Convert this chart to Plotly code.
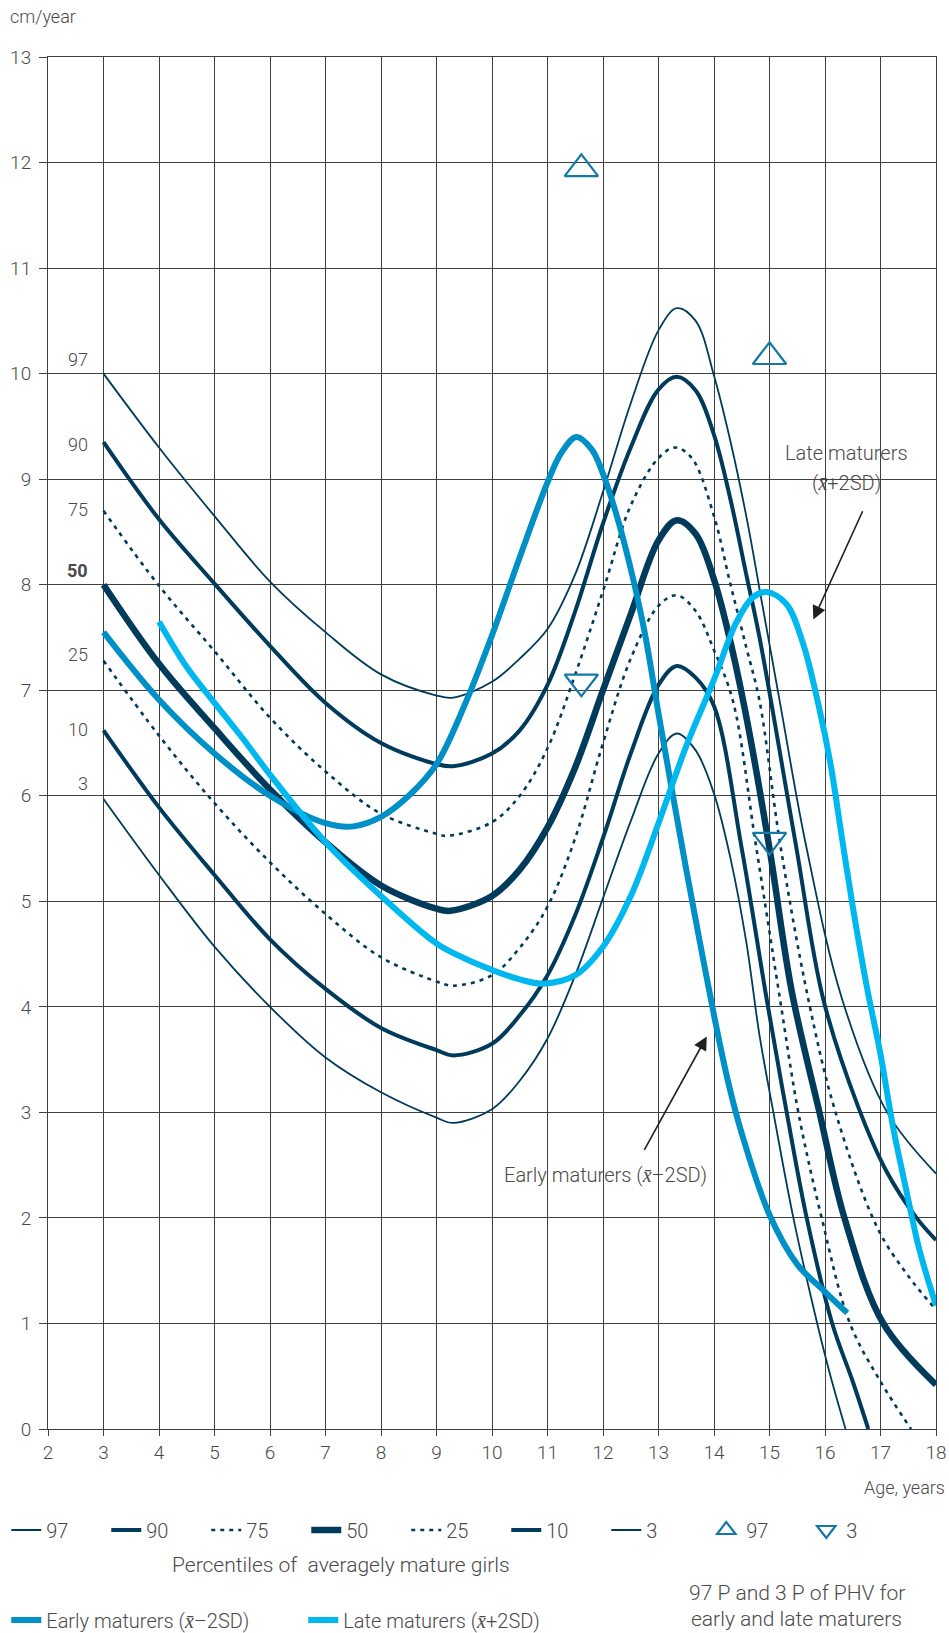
import plotly.graph_objects as go

# ---------------- data ----------------
age_p97 = [3, 4, 5, 6, 7, 8, 9, 9.3, 10, 10.5, 11, 11.5, 12, 12.5, 13, 13.33, 13.67, 14, 14.3, 14.6, 14.84, 15.2, 15.65, 16.31, 17.12, 18]
val_p97 = [10.0, 9.3, 8.65, 8.03, 7.55, 7.15, 6.95, 6.93, 7.08, 7.3, 7.58, 8.1, 8.88, 9.72, 10.41, 10.62, 10.5, 9.98, 9.35, 8.6, 7.9, 6.85, 5.55, 4.07, 3.0, 2.42]

age_p90 = [3, 4, 5, 6, 7, 8, 9, 9.3, 10, 10.5, 11, 11.5, 12, 12.5, 13, 13.33, 13.67, 14, 14.3, 14.58, 14.82, 15.47, 15.97, 16.6, 17.1, 17.65, 18]
val_p90 = [9.35, 8.62, 8.01, 7.42, 6.88, 6.5, 6.3, 6.28, 6.4, 6.62, 7.05, 7.75, 8.58, 9.3, 9.85, 9.97, 9.84, 9.42, 8.8, 8.1, 7.5, 5.55, 4.07, 3.05, 2.45, 2.0, 1.79]

age_p75 = [3, 4, 5, 6, 7, 8, 9, 9.2, 10, 10.5, 11, 11.5, 12, 12.5, 13, 13.3, 13.6, 14, 14.28, 14.58, 14.82, 15.19, 15.7, 16.19, 16.95, 17.5, 18]
val_p75 = [8.7, 7.99, 7.37, 6.74, 6.23, 5.83, 5.64, 5.62, 5.75, 6.0, 6.45, 7.15, 7.94, 8.75, 9.2, 9.3, 9.2, 8.65, 8.04, 7.41, 6.9, 5.55, 4.07, 3.0, 1.9, 1.45, 1.13]

age_p50 = [3, 4, 5, 6, 7, 8, 9, 9.25, 10, 10.5, 11, 11.5, 12, 12.5, 13, 13.33, 13.67, 14, 14.3, 14.6, 15.0, 15.4, 15.9, 16.35, 17.05, 18]
val_p50 = [8.0, 7.25, 6.64, 6.06, 5.56, 5.15, 4.93, 4.91, 5.05, 5.3, 5.7, 6.27, 7.0, 7.72, 8.42, 8.61, 8.48, 8.05, 7.45, 6.7, 5.5, 4.15, 3.0, 2.0, 1.0, 0.42]

age_p25 = [3, 4, 5, 6, 7, 8, 9, 9.3, 10, 10.5, 11, 11.5, 12, 12.5, 13, 13.33, 13.67, 14, 14.34, 14.75, 15.19, 15.52, 15.94, 16.45, 17.0, 17.55]
val_p25 = [7.28, 6.57, 5.93, 5.37, 4.88, 4.47, 4.24, 4.2, 4.3, 4.56, 4.95, 5.6, 6.5, 7.3, 7.8, 7.9, 7.75, 7.38, 6.9, 5.55, 4.07, 3.0, 2.0, 1.0, 0.45, 0.0]

age_p10 = [3, 4, 5, 6, 7, 8, 9, 9.3, 10, 10.5, 11, 11.5, 12, 12.5, 13, 13.33, 13.67, 14, 14.5, 14.95, 15.31, 15.67, 16.13, 16.5, 16.78]
val_p10 = [6.62, 5.89, 5.25, 4.64, 4.17, 3.8, 3.59, 3.54, 3.65, 3.92, 4.3, 4.87, 5.6, 6.4, 7.05, 7.23, 7.12, 6.85, 5.5, 4.07, 3.0, 2.0, 1.0, 0.45, 0.0]

age_p3 = [3, 4, 5, 6, 7, 8, 9, 9.3, 10, 10.5, 11, 11.5, 12, 12.5, 13, 13.33, 13.67, 14, 14.3, 14.58, 14.82, 15.07, 15.43, 15.86, 16.1, 16.37]
val_p3 = [5.97, 5.25, 4.57, 4.0, 3.52, 3.19, 2.95, 2.9, 3.03, 3.3, 3.7, 4.3, 5.03, 5.76, 6.4, 6.59, 6.43, 6.02, 5.4, 4.62, 3.73, 3.0, 2.0, 1.0, 0.5, 0.0]

age_early = [3, 4, 5, 6, 7, 7.5, 8, 8.5, 9, 9.5, 10, 10.5, 11, 11.25, 11.52, 11.8, 12, 12.25, 12.5, 12.75, 13, 13.25, 13.5, 13.75, 14, 14.25, 14.5, 15, 15.5, 16, 16.4]
val_early = [7.55, 6.91, 6.4, 6.0, 5.74, 5.71, 5.8, 6.0, 6.3, 6.85, 7.52, 8.26, 8.97, 9.25, 9.4, 9.28, 9.05, 8.65, 8.15, 7.55, 6.78, 6.03, 5.3, 4.6, 3.92, 3.3, 2.8, 2.03, 1.56, 1.3, 1.1]

age_late = [4, 4.5, 5, 5.5, 6, 7, 8, 9, 9.5, 10, 10.5, 10.92, 11.5, 12, 12.5, 13, 13.5, 14, 14.4, 14.7, 14.95, 15.3, 15.6, 15.9, 16.1, 16.3, 16.5, 16.75, 17.0, 17.23, 17.45, 17.7, 18]
val_late = [7.65, 7.22, 6.88, 6.55, 6.2, 5.56, 5.05, 4.6, 4.46, 4.35, 4.26, 4.22, 4.3, 4.57, 5.05, 5.74, 6.47, 7.1, 7.64, 7.88, 7.93, 7.82, 7.45, 6.82, 6.3, 5.62, 4.95, 4.2, 3.55, 2.85, 2.3, 1.7, 1.17]

phv97_age = [11.61, 15.0]
phv97_val = [11.94, 10.16]
phv3_age = [11.61, 15.0]
phv3_val = [7.08, 5.58]

pct_label_text = ["97", "90", "75", "<b>50</b>", "25", "10", "3"]
pct_label_y = [10.13, 9.33, 8.71, 8.13, 7.34, 6.63, 6.12]

x_ticks = list(range(2, 19))
y_ticks = list(range(0, 14))

# ---------------- styles ----------------
NAVY = "#013b5c"
EARLY = "#0090c8"
LATE = "#00b8ef"
MARK = "#1379a6"
GRID = "#404040"
TXT = "#4a4a4a"
FONT = "Roboto"
W = 300

fig = go.Figure()

def curve(x, y, name, width, dash, color, legend):
    fig.add_trace(go.Scatter(
        x=x, y=y, mode="lines", name=name, legend=legend,
        line=dict(color=color, width=width, dash=dash, shape="spline", smoothing=1.0),
        hoverinfo="skip"))

DOT = "4px,5px"
curve(age_p97, val_p97, "97", 1.8, "solid", NAVY, "legend")
curve(age_p90, val_p90, "90", 4, "solid", NAVY, "legend")
curve(age_p75, val_p75, "75", 2.6, DOT, NAVY, "legend")
curve(age_p50, val_p50, "50", 6.5, "solid", NAVY, "legend")
curve(age_p25, val_p25, "25", 2.6, DOT, NAVY, "legend")
curve(age_p10, val_p10, "10", 4, "solid", NAVY, "legend")
curve(age_p3, val_p3, "3", 1.8, "solid", NAVY, "legend")
curve(age_early, val_early, "Early maturers (<i>x̄</i>–2SD)", 6, "solid", EARLY, "legend2")
curve(age_late, val_late, "Late maturers (<i>x̄</i>+2SD)", 6, "solid", LATE, "legend2")

fig.add_trace(go.Scatter(x=phv97_age, y=phv97_val, mode="markers", name="97", legend="legend",
                         marker=dict(symbol="triangle-up-open", size=29, color=MARK, line=dict(color=MARK, width=2.2)),
                         hoverinfo="skip"))
fig.add_trace(go.Scatter(x=phv3_age, y=phv3_val, mode="markers", name="3", legend="legend",
                         marker=dict(symbol="triangle-down-open", size=29, color=MARK, line=dict(color=MARK, width=2.2)),
                         hoverinfo="skip"))

def tfont(size):
    return dict(size=size, color=TXT, family=FONT, weight=W)

annotations = []
for t, yv in zip(pct_label_text, pct_label_y):
    annotations.append(dict(x=2.76, y=yv, xref="x", yref="y", text=t, showarrow=False,
                            xanchor="right", yanchor="middle", font=tfont(18)))

# arrows
annotations.append(dict(x=15.79, y=7.67, ax=16.69, ay=8.71, xref="x", yref="y", axref="x", ayref="y",
                        text="", showarrow=True, arrowhead=2, arrowsize=1.7, arrowwidth=1.6, arrowcolor="#231f20"))
annotations.append(dict(x=13.87, y=3.72, ax=12.73, ay=2.63, xref="x", yref="y", axref="x", ayref="y",
                        text="", showarrow=True, arrowhead=2, arrowsize=1.7, arrowwidth=1.6, arrowcolor="#231f20"))
annotations.append(dict(x=16.38, y=9.25, xref="x", yref="y", text="Late maturers", showarrow=False,
                        xanchor="center", yanchor="middle", font=tfont(20)))
annotations.append(dict(x=16.38, y=8.96, xref="x", yref="y", text="(<i>x̄</i>+2SD)", showarrow=False,
                        xanchor="center", yanchor="middle", font=tfont(20)))
annotations.append(dict(x=12.04, y=2.41, xref="x", yref="y", text="Early maturers (<i>x̄</i>–2SD)", showarrow=False,
                        xanchor="center", yanchor="middle", font=tfont(20)))

# axis captions
annotations.append(dict(x=-0.0447, y=1.0294, xref="paper", yref="paper", text="cm/year", showarrow=False,
                        xanchor="left", yanchor="middle", font=tfont(18)))
annotations.append(dict(x=1.0, y=-0.0423, xref="paper", yref="paper", text="Age, years", showarrow=False,
                        xanchor="right", yanchor="middle", xshift=11, font=tfont(18)))
# legend captions
annotations.append(dict(x=0.330, y=-0.0991, xref="paper", yref="paper", text="Percentiles of  averagely mature girls",
                        showarrow=False, xanchor="center", yanchor="middle", font=tfont(21)))
annotations.append(dict(x=0.843, y=-0.1196, xref="paper", yref="paper", text="97 P and 3 P of PHV for",
                        showarrow=False, xanchor="center", yanchor="middle", font=tfont(21)))
annotations.append(dict(x=0.843, y=-0.1387, xref="paper", yref="paper", text="early and late maturers",
                        showarrow=False, xanchor="center", yanchor="middle", font=tfont(21)))

axis_common = dict(showgrid=True, gridcolor=GRID, gridwidth=1, zeroline=False,
                   showline=True, mirror=True, linecolor=GRID, linewidth=1,
                   ticks="outside", tickcolor=GRID, tickfont=tfont(19), automargin=False)

fig.update_layout(
    width=949, height=1633,
    margin=dict(l=47.7, r=13.3, t=57.3, b=204, autoexpand=False),
    plot_bgcolor="white", paper_bgcolor="white",
    font=dict(family=FONT, size=19, color=TXT, weight=W),
    xaxis=dict(range=[2, 18], tickvals=x_ticks, ticklen=6, **axis_common),
    yaxis=dict(range=[0, 13], tickvals=y_ticks, ticklen=8, ticklabelstandoff=4, **axis_common),
    annotations=annotations,
    showlegend=True,
    legend=dict(orientation="h", x=-0.047, y=-0.0736, xanchor="left", yanchor="middle",
                entrywidth=55, itemwidth=30, bgcolor="rgba(0,0,0,0)", font=tfont(20),
                traceorder="normal"),
    legend2=dict(orientation="h", x=-0.047, y=-0.1392, xanchor="left", yanchor="middle",
                 entrywidth=252, itemwidth=30, bgcolor="rgba(0,0,0,0)", font=tfont(20),
                 traceorder="normal"),
)

fig.write_html("out.html", config={"displayModeBar": False, "staticPlot": True},
               post_script="document.body.style.margin='0px';")
